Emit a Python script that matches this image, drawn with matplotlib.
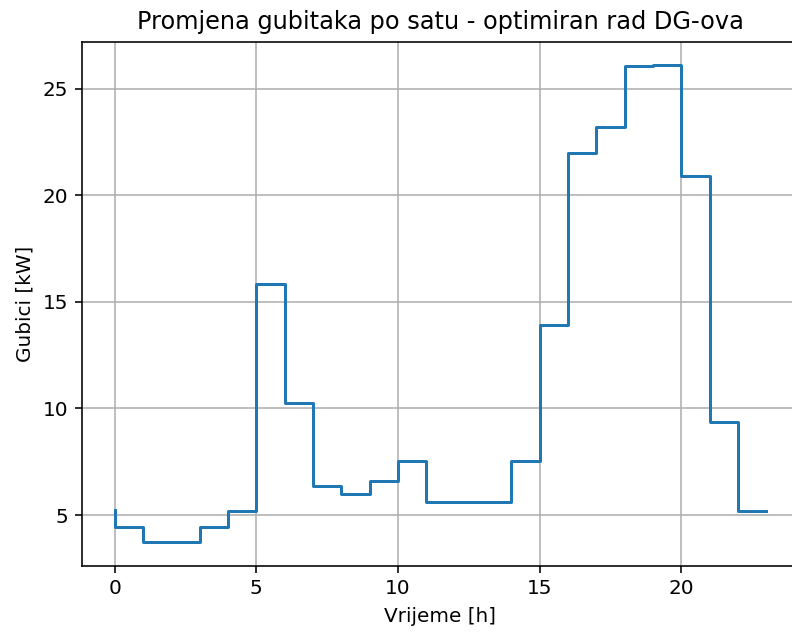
import numpy as np
import matplotlib
matplotlib.use("Agg")
import matplotlib.pyplot as plt

# Hourly losses
hours = list(range(24))
gubici = [5.22, 4.45, 3.75, 3.75, 4.45, 5.18, 15.82, 10.26, 6.37, 5.98,
          6.6, 7.53, 5.6, 5.6, 5.6, 7.53, 13.9, 21.97, 23.2, 26.05,
          26.1, 20.9, 9.36, 5.18]

dpi = 144
fig = plt.figure(figsize=(792 / dpi, 633 / dpi), dpi=dpi)
ax = fig.add_subplot(111)
# the reference is cropped a little on the right side of the axes
fig.subplots_adjust(left=82 / 792, right=799 / 792, top=1 - 41.5 / 633, bottom=1 - 565.5 / 633)

ax.step(hours, gubici, where='pre')
ax.set_title("Promjena gubitaka po satu - optimiran rad DG-ova")
ax.set_xlabel("Vrijeme [h]")
ax.set_ylabel("Gubici [kW]")
ax.grid(True)
ax.spines['right'].set_visible(False)  # falls outside the cropped image

fig.savefig("out.png", dpi=dpi)
